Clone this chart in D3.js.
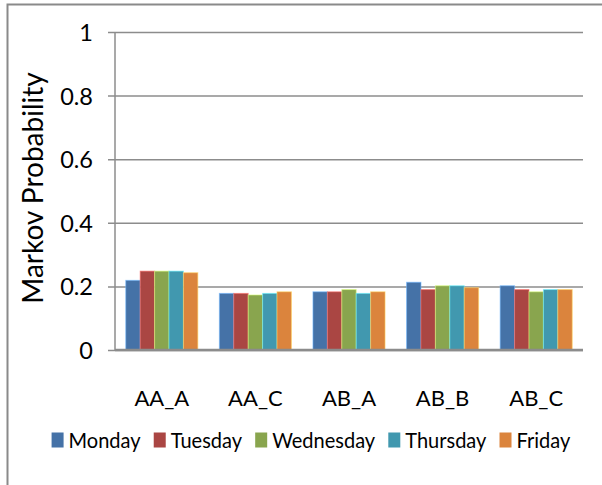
<!DOCTYPE html>
<html>
<head>
<meta charset="utf-8">
<script src="https://cdn.jsdelivr.net/npm/d3@7"></script>
<style>
  html, body { margin: 0; padding: 0; background: #fff; }
  svg { display: block; }
  text { font-family: Lato, "Open Sans", sans-serif; fill: #000; }
</style>
</head>
<body>
<svg id="chart" width="602" height="485"></svg>
<script>
// Markov transition probabilities by state pair and weekday
const categories = ["AA_A", "AA_C", "AB_A", "AB_B", "AB_C"];
const days = ["Monday", "Tuesday", "Wednesday", "Thursday", "Friday"];
const monday    = [0.219, 0.178, 0.183, 0.213, 0.202];
const tuesday   = [0.248, 0.178, 0.183, 0.190, 0.190];
const wednesday = [0.248, 0.173, 0.190, 0.202, 0.183];
const thursday  = [0.248, 0.178, 0.178, 0.202, 0.190];
const friday    = [0.243, 0.183, 0.183, 0.196, 0.190];
const yTicks = [0, 0.2, 0.4, 0.6, 0.8, 1];
const colors = ["#4572A7", "#AA4643", "#89A54E", "#4198AF", "#DB843D"];

const seriesValues = [monday, tuesday, wednesday, thursday, friday];

const svg = d3.select("#chart");
const margin = { left: 115, right: 19, top: 32, bottom: 135 };
const W = 602, H = 485;

const y = d3.scaleLinear().domain([0, 1]).range([H - margin.bottom, margin.top]);
const x0 = d3.scaleBand().domain(categories)
  .range([margin.left, W - margin.right])
  .paddingInner(0.23).paddingOuter(0.115);
const x1 = d3.scaleBand().domain(days).range([0, x0.bandwidth()]).padding(0);
const color = d3.scaleOrdinal().domain(days).range(colors);

// outer frame (top and left edges)
svg.append("path")
  .attr("d", `M7.5,${H} L7.5,4.5 L${W},4.5`)
  .attr("fill", "none").attr("stroke", "#8a8a8a").attr("stroke-width", 2);

// horizontal gridlines with outside tick marks
const yAxis = d3.axisLeft(y).tickValues(yTicks)
  .tickSize(-(W - margin.right - margin.left))
  .tickFormat(d3.format("~g"));
const gy = svg.append("g").attr("transform", `translate(${margin.left},0)`).call(yAxis);
gy.select(".domain").remove();
gy.selectAll(".tick line")
  .attr("x1", -7)
  .attr("stroke", "#8c8c8c").attr("stroke-width", 1.5);
gy.selectAll(".tick text")
  .attr("x", -22).attr("dy", "0.36em")
  .style("font-size", "23.5px").style("font-family", null)
  .attr("fill", "#000");

// bars
const groups = svg.append("g").selectAll("g")
  .data(categories)
  .join("g")
  .attr("transform", c => `translate(${x0(c)},0)`);

groups.selectAll("rect")
  .data((c, ci) => days.map((d, di) => ({ day: d, value: seriesValues[di][ci] })))
  .join("rect")
  .attr("x", d => x1(d.day))
  .attr("y", d => y(d.value))
  .attr("width", x1.bandwidth())
  .attr("height", d => y(0) - y(d.value))
  .attr("fill", d => color(d.day))
  .attr("stroke", d => d3.color(color(d.day)).brighter(1.3))
  .attr("stroke-opacity", 0.6)
  .attr("stroke-width", 1);

// category axis
svg.append("line")
  .attr("x1", margin.left).attr("x2", W - margin.right)
  .attr("y1", y(0)).attr("y2", y(0))
  .attr("stroke", "#8c8c8c").attr("stroke-width", 2.5);
svg.append("line")
  .attr("x1", margin.left).attr("x2", margin.left)
  .attr("y1", y(1)).attr("y2", y(0))
  .attr("stroke", "#8c8c8c").attr("stroke-width", 1.5);

svg.append("g").selectAll("text")
  .data(categories)
  .join("text")
  .attr("x", c => x0(c) + x0.bandwidth() / 2)
  .attr("y", 406)
  .attr("text-anchor", "middle")
  .style("font-size", "22px")
  .text(c => c);

// y-axis title
svg.append("text")
  .attr("transform", "translate(43,188) rotate(-90)")
  .attr("text-anchor", "middle")
  .style("font-size", "28px")
  .text("Markov Probability");

// legend, laid out left to right and centred; labels slightly condensed
const legend = svg.append("g");
const items = legend.selectAll("g").data(days).join("g");
items.append("rect")
  .attr("width", 12).attr("height", 15)
  .attr("y", -15.5)
  .attr("fill", d => color(d));
items.append("text")
  .attr("transform", "translate(17,0) scale(0.91,1)")
  .style("font-size", "22px")
  .text(d => d);
let cursor = 0;
items.each(function () {
  const w = this.getBBox().width;
  d3.select(this).attr("transform", `translate(${cursor},0)`);
  cursor += w + 13;
});
const total = cursor - 13;
legend.attr("transform", `translate(${311 - total / 2},448)`);
</script>
</body>
</html>
